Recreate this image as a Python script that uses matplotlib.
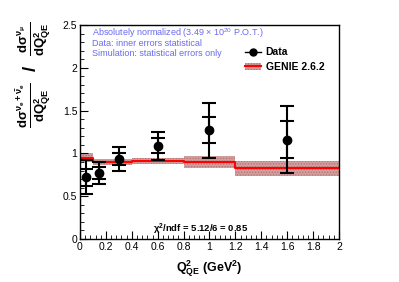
import numpy as np
import matplotlib
matplotlib.use("Agg")
import matplotlib.pyplot as plt
from matplotlib.lines import Line2D
from matplotlib.patches import Patch
from matplotlib.ticker import MultipleLocator, FuncFormatter

plt.rcParams["font.family"] = ["Liberation Sans", "DejaVu Sans"]
plt.rcParams["mathtext.fontset"] = "custom"
plt.rcParams["mathtext.rm"] = "Liberation Sans"
plt.rcParams["mathtext.bf"] = "Liberation Sans:bold"
plt.rcParams["mathtext.it"] = "Liberation Sans:italic"
plt.rcParams["hatch.linewidth"] = 0.4

# Data points (ratio), outer = total, inner = statistical
q2 = [0.05, 0.15, 0.3, 0.6, 1.0, 1.6]
ratio = [0.72, 0.77, 0.93, 1.09, 1.27, 1.16]
err_tot = [0.20, 0.13, 0.14, 0.165, 0.32, 0.39]
err_stat = [0.10, 0.07, 0.07, 0.085, 0.15, 0.215]

# GENIE prediction histogram
bin_edges = [0.0, 0.1, 0.4, 0.8, 1.2, 2.0]
genie = [0.95, 0.895, 0.91, 0.895, 0.825]
genie_err = [0.05, 0.035, 0.035, 0.07, 0.09]

fig = plt.figure(figsize=(3.99, 2.82), dpi=100)
ax = fig.add_axes([0.2005, 0.1525, 0.6491, 0.7588])

band_col = "#d09c9c"
hatch_col = "#b06868"
for i in range(len(genie)):
    ax.fill_between([bin_edges[i], bin_edges[i + 1]],
                    genie[i] - genie_err[i], genie[i] + genie_err[i],
                    facecolor=band_col, edgecolor=hatch_col, hatch="......",
                    linewidth=0, zorder=1)

sx = [bin_edges[0]]
sy = [0.0]
for i in range(len(genie)):
    sx += [bin_edges[i], bin_edges[i + 1]]
    sy += [genie[i], genie[i]]
ax.plot(sx, sy, color="red", lw=1.5, zorder=2)

# total errors with caps, stat errors as extra caps
ax.errorbar(q2, ratio, yerr=err_tot, fmt="o", color="black", ms=6,
            elinewidth=1.5, capsize=5, capthick=1.5, zorder=4)
ax.errorbar(q2, ratio, yerr=err_stat, fmt="none", ecolor="black",
            elinewidth=1.5, capsize=5, capthick=1.5, zorder=4)

ax.set_xlim(0, 2)
ax.set_ylim(0, 2.5)
ax.xaxis.set_major_locator(MultipleLocator(0.2))
ax.xaxis.set_minor_locator(MultipleLocator(0.04))
ax.yaxis.set_major_locator(MultipleLocator(0.5))
ax.yaxis.set_minor_locator(MultipleLocator(0.1))
fmt = FuncFormatter(lambda v, p: "%g" % round(v, 2))
ax.xaxis.set_major_formatter(fmt)
ax.yaxis.set_major_formatter(fmt)
ax.tick_params(which="both", direction="in", labelsize=7.5, pad=2,
               top=False, right=False)
ax.tick_params(which="major", length=6, width=0.8)
ax.tick_params(which="minor", length=3, width=0.6)
for s in ax.spines.values():
    s.set_linewidth(1.0)

ax.set_xlabel(r"$\mathbf{Q^{2}_{QE}}$ (GeV$\mathbf{^{2}}$)", fontsize=9,
              fontweight="bold", labelpad=5)

# y label built from two fractions, sits in the upper part of the axis
fig.text(0.085, 0.734,
         r"$\mathbf{\frac{d\sigma^{\nu_{e}+\bar{\nu}_{e}}}{dQ^{2}_{QE}}}$"
         r"  /  "
         r"$\mathbf{\frac{d\sigma^{\nu_{\mu}}}{dQ^{2}_{QE}}}$",
         rotation=90, ha="center", va="center", fontsize=13.5,
         fontweight="bold")

blue = "#6a6aee"
info = ["Absolutely normalized (3.49 $\\times$ 10$^{20}$ P.O.T.)",
        "Data: inner errors statistical",
        "Simulation: statistical errors only"]
for i, t in enumerate(info):
    fig.text(0.231, 0.882 - i * 0.036, t, color=blue, fontsize=6.5,
             va="center", ha="left")

fig.text(0.503, 0.188, r"$\mathbf{\chi^{2}}$/ndf = 5.12/6 = 0.85",
         fontsize=6.8, fontweight="bold", ha="center", va="center")

h_data = Line2D([], [], color="black", marker="o", ms=5, lw=1)
h_genie = (Patch(facecolor=band_col, edgecolor=hatch_col, hatch="......",
                 linewidth=0),
           Line2D([], [], color="red", lw=1.5))
leg = ax.legend([h_data, h_genie], ["Data", "GENIE 2.6.2"],
                loc="upper left", bbox_to_anchor=(0.6, 0.94), frameon=False,
                handlelength=1.6, handletextpad=0.4,
                labelspacing=0.45, prop={"weight": "bold", "size": 7.5})

fig.savefig("out.png", dpi=100)
